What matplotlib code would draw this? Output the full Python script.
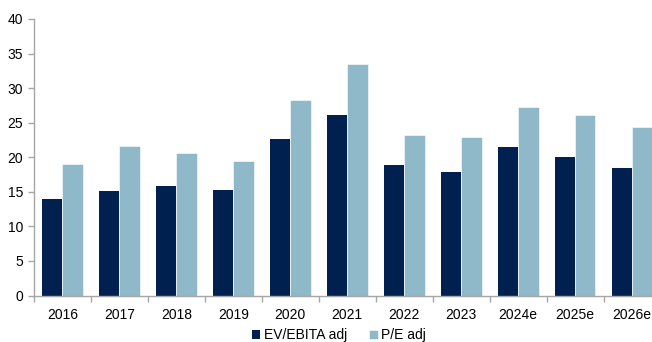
import matplotlib.pyplot as plt
import numpy as np

years = ["2016", "2017", "2018", "2019", "2020", "2021", "2022", "2023", "2024e", "2025e", "2026e"]
ev_ebita = [13.9, 15.1, 15.9, 15.2, 22.7, 26.1, 18.9, 17.9, 21.5, 20.0, 18.4]
pe_adj = [19.0, 21.6, 20.6, 19.5, 28.3, 33.5, 23.2, 22.9, 27.3, 26.1, 24.4]

navy = "#00214f"
light = "#8fb8c8"
grey = "#a6a6a6"

plt.rcParams["font.family"] = ["Liberation Sans", "DejaVu Sans"]

fig = plt.figure(figsize=(6.52, 3.42), dpi=100)
W, H = 652, 342
ax = fig.add_axes([34 / W, (H - 295.5) / H, (660.6 - 34) / W, (295.5 - 19) / H])

x = np.arange(len(years))
bw = 0.357
ax.bar(x - bw / 2, ev_ebita, bw, color=navy, label="EV/EBITA adj")
ax.bar(x + bw / 2, pe_adj, bw, color=light, edgecolor="white", linewidth=0.4, label="P/E adj")

ax.set_xlim(-0.5, len(years) - 0.5)
ax.set_ylim(0, 40)
ax.set_yticks(range(0, 41, 5))
ax.set_xticks(x)
ax.set_xticklabels(years)
ax.set_xticks(np.arange(-0.5, len(years), 1), minor=True)
ax.tick_params(axis="x", which="major", length=0, pad=9, labelsize=10)
ax.tick_params(axis="x", which="minor", length=4, color=grey, width=1)
ax.tick_params(axis="y", length=4, color=grey, width=1, pad=4, labelsize=10)

for s in ["top", "right"]:
    ax.spines[s].set_visible(False)
for s in ["left", "bottom"]:
    ax.spines[s].set_color(grey)
    ax.spines[s].set_linewidth(1)

fig.legend(loc="center", bbox_to_anchor=(339 / W, 1 - 335 / H), ncol=2, frameon=False,
           fontsize=10, handlelength=0.6, handleheight=0.6, handletextpad=0.25,
           columnspacing=1.6, borderaxespad=0)

fig.savefig("out.png", dpi=100)
